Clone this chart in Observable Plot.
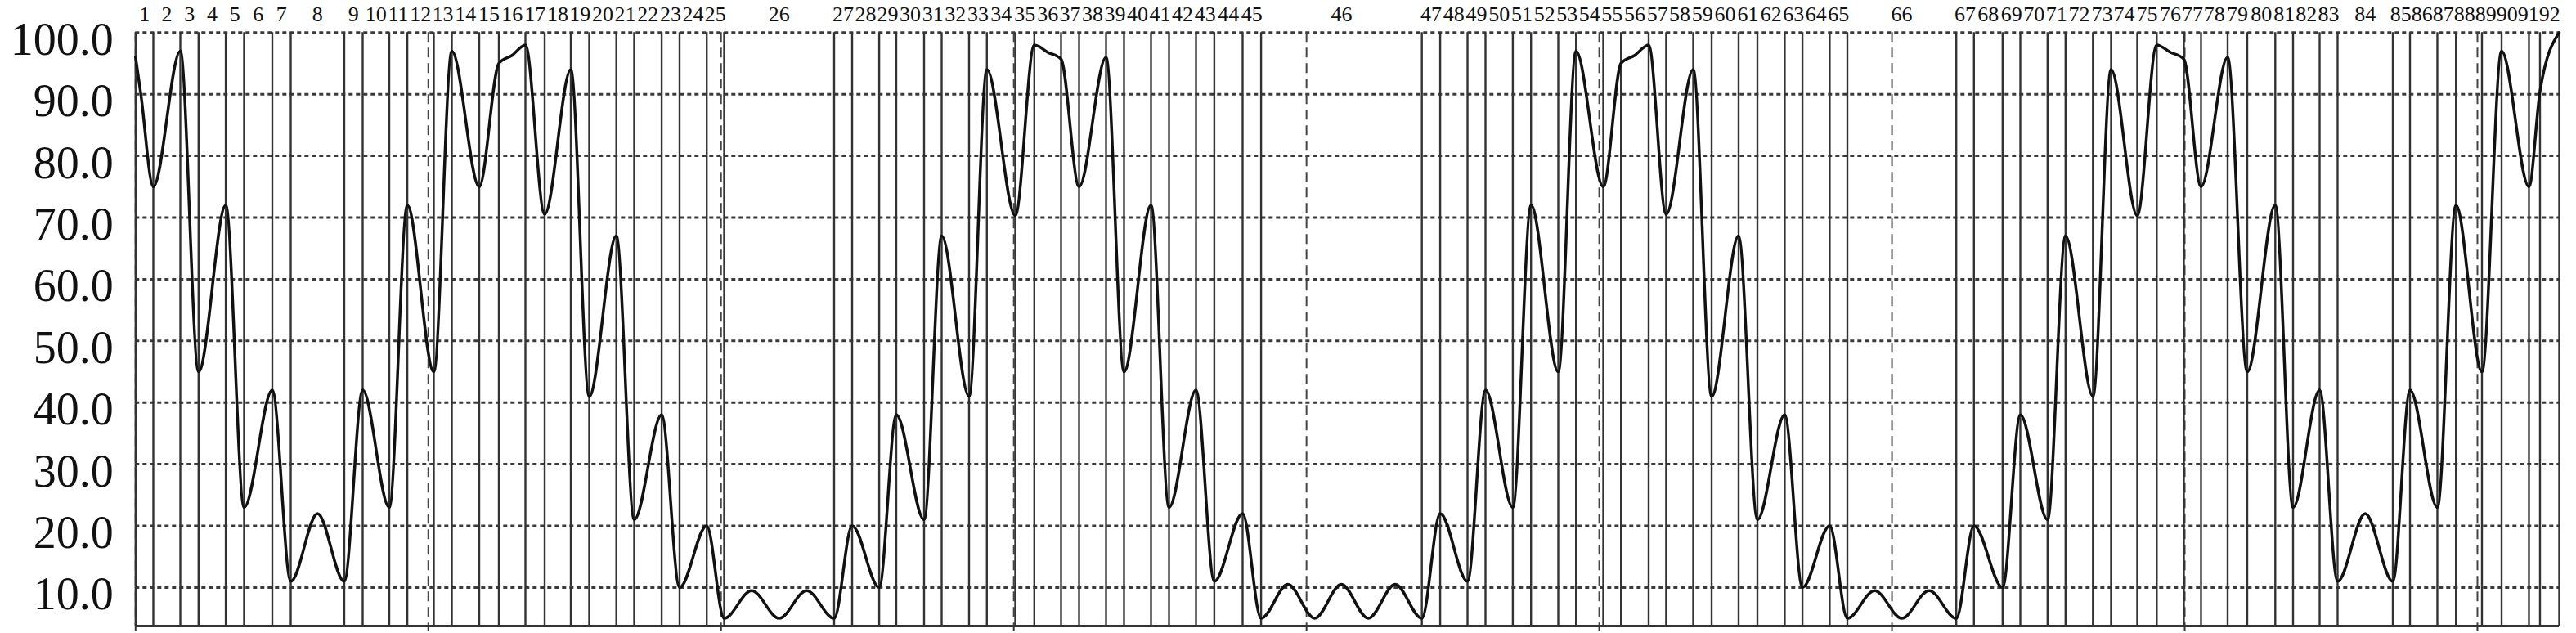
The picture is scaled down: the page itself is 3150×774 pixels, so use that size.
<!DOCTYPE html>
<html>
<head>
<meta charset="utf-8">
<script src="https://cdn.jsdelivr.net/npm/d3@7"></script>
<script src="https://cdn.jsdelivr.net/npm/@observablehq/plot@0.6"></script>
<style>
  html, body { margin: 0; padding: 0; background: #fff; }
  #chart svg { display: block; }
</style>
</head>
<body>
<div id="chart"></div>
<script>
// Segment boundaries (time units; dashed grid every 100 units)
const boundaries = [
  0, 6.06, 15.28, 21.51, 30.81, 37.07, 46.71, 53.0, 71.29, 77.58,
  86.66, 92.83, 101.88, 108.03, 117.39, 124.09, 133.17, 139.74, 148.68, 154.96,
  164.23, 170.33, 179.71, 185.83, 195.11, 201.06, 238.63, 244.78, 254.02, 259.86,
  269.36, 275.37, 284.72, 290.81, 300.51, 307.02, 316.15, 322.3, 331.52, 337.66,
  346.88, 353.03, 362.25, 368.5, 378.17, 384.48, 439.4, 445.66, 455.0, 461.14,
  470.47, 476.7, 486.0, 492.07, 501.37, 507.43, 516.87, 522.85, 532.1, 538.39,
  547.6, 554.03, 563.36, 569.42, 578.72, 584.76, 621.97, 628.0, 637.78, 643.84,
  653.15, 659.29, 668.65, 674.85, 683.79, 690.44, 699.71, 705.58, 714.66, 721.36,
  730.94, 737.01, 746.09, 752.23, 771.09, 776.96, 786.31, 792.66, 801.54, 808.25,
  817.6, 821.37, 827.94
];

// Segment labels (one per interval between boundaries)
const segmentLabels = [
  1, 2, 3, 4, 5, 6, 7, 8, 9, 10, 11, 12, 13, 14, 15, 16, 17, 18, 19, 20,
  21, 22, 23, 24, 25, 26, 27, 28, 29, 30, 31, 32, 33, 34, 35, 36, 37, 38, 39, 40,
  41, 42, 43, 44, 45, 46, 47, 48, 49, 50, 51, 52, 53, 54, 55, 56, 57, 58, 59, 60,
  61, 62, 63, 64, 65, 66, 67, 68, 69, 70, 71, 72, 73, 74, 75, 76, 77, 78, 79, 80,
  81, 82, 83, 84, 85, 86, 87, 88, 89, 90, 91, 92
];

// Dashed time grid / x ticks
const xTicks = [0, 100, 200, 300, 400, 500, 600, 700, 800];

// Y ticks
const yTicks = [10, 20, 30, 40, 50, 60, 70, 80, 90, 100];

// Curve (x in time units, y in %)
const lineX = [
  0, 1.8, 6.06, 15.28, 21.51, 30.81, 37.07, 46.71, 53.0, 62.15,
  71.29, 77.58, 86.66, 92.83, 101.88, 108.03, 117.39, 124.09, 128.6, 133.17,
  139.74, 148.68, 154.96, 164.23, 170.33, 179.71, 185.83, 195.11, 201.06, 210.45,
  219.85, 229.24, 238.63, 244.78, 254.02, 259.86, 269.36, 275.37, 284.72, 290.81,
  300.51, 307.02, 311.6, 316.15, 322.3, 331.52, 337.66, 346.88, 353.03, 362.25,
  368.5, 378.17, 384.48, 393.6, 402.8, 411.9, 421.1, 430.3, 439.4, 445.66,
  455.0, 461.14, 470.47, 476.7, 486.0, 492.07, 501.37, 507.43, 512.1, 516.87,
  522.85, 532.1, 538.39, 547.6, 554.03, 563.36, 569.42, 578.72, 584.76, 594.06,
  603.37, 612.67, 621.97, 628.0, 637.78, 643.84, 653.15, 659.29, 668.65, 674.85,
  683.79, 690.44, 695.1, 699.71, 705.58, 714.66, 721.36, 730.94, 737.01, 746.09,
  752.23, 761.66, 771.09, 776.96, 786.31, 792.66, 801.54, 808.25, 817.6, 821.37,
  827.94
];
const lineY = [
  96, 90, 75, 97, 45, 72, 23, 42, 11, 22,
  11, 42, 23, 72, 45, 97, 75, 95, 96.3, 98,
  70.5, 94, 41, 67, 21, 38, 10, 20, 5, 9.5,
  5, 9.5, 5, 20, 10, 38, 21, 67, 41, 94,
  70.3, 98, 96.8, 95.7, 75, 96, 45, 72, 23, 42,
  11, 22, 5, 10.5, 5, 10.5, 5, 10.5, 5, 22,
  11, 42, 23, 72, 45, 97, 75, 95, 96.3, 98,
  70.5, 94, 41, 67, 21, 38, 10, 20, 5, 9.5,
  5, 9.5, 5, 20, 10, 38, 21, 67, 41, 94,
  70.3, 98, 96.8, 95.7, 75, 96, 45, 72, 23, 42,
  11, 22, 11, 42, 23, 72, 45, 97, 75, 90.5,
  100
];

const W = 3150, H = 774;
const mL = 165.3, mR = 21, mT = 39.3, mB = 9;
const xDomain = [0, 827.94];
const labelSize = 26;

const curve = lineX.map((x, i) => ({x, y: lineY[i]}));

// Label positions: segment midpoints, nudged right-to-left so labels never overlap
const xs = d3.scaleLinear(xDomain, [mL, W - mR]);
const segments = segmentLabels.map((label, i) => ({
  label: String(label),
  mid: (boundaries[i] + boundaries[i + 1]) / 2
}));
const minGapUnits = xs.invert(mL + labelSize) - xs.invert(mL);
for (let i = segments.length - 2; i >= 0; --i) {
  const limit = segments[i + 1].mid - minGapUnits;
  if (segments[i].mid > limit) segments[i].mid = limit;
}

const serif = "'Liberation Serif', 'Times New Roman', 'DejaVu Serif', serif";
const yMin = 3.75;

const chart = Plot.plot({
  width: W,
  height: H,
  marginLeft: mL,
  marginRight: mR,
  marginTop: mT,
  marginBottom: mB,
  style: {fontFamily: serif, background: "#fff", color: "#111"},
  x: {domain: xDomain, axis: null},
  y: {domain: [yMin, 100], axis: null},
  marks: [
    Plot.gridY(yTicks, {stroke: "#3a3a3a", strokeOpacity: 1, strokeWidth: 3, strokeDasharray: "5,4"}),
    Plot.ruleX(xTicks, {stroke: "#444", strokeWidth: 2, strokeDasharray: "12,7"}),
    Plot.ruleX(boundaries, {stroke: "#333", strokeWidth: 2.4}),
    Plot.ruleY([yMin], {stroke: "#333", strokeWidth: 3}),
    Plot.axisX({ticks: xTicks, tickFormat: () => "", tickSize: 7, stroke: "#333", strokeWidth: 2, label: null}),
    Plot.axisY({ticks: yTicks, tickFormat: d => d.toFixed(1), tickSize: 0, tickPadding: 27, fontSize: 56, dy: 9, fill: "#111", label: null}),
    Plot.line(curve, {x: "x", y: "y", curve: "monotone-x", stroke: "#111", strokeWidth: 3.5}),
    Plot.text(segments, {x: "mid", text: "label", frameAnchor: "top", lineAnchor: "bottom", dy: -14, fontSize: labelSize, fill: "#111"})
  ]
});
document.getElementById("chart").appendChild(chart);
</script>
</body>
</html>
